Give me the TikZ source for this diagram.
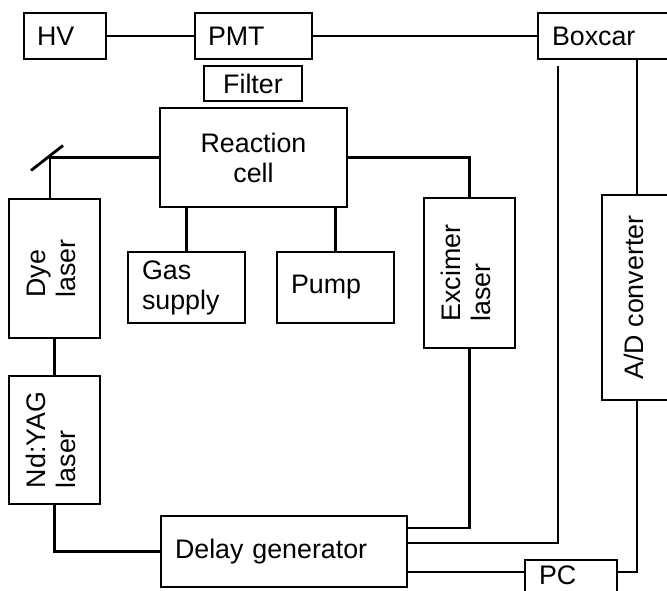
\documentclass[tikz,border=0pt]{standalone}
\usepackage{fontspec}
\usepackage{graphicx}
\setmainfont{Liberation Sans}
\usetikzlibrary{positioning, calc}
\tikzset{
  every picture/.style={line width=2.8pt},
  box/.style={draw, rectangle, inner sep=0pt, align=left, font=\fontsize{26.8}{30}\selectfont},
}
\newcommand{\vlabel}[1]{\rotatebox{90}{\begin{tabular}{@{}l@{}}#1\end{tabular}}}

\begin{document}
\begin{tikzpicture}[x=1pt, y=-1pt]
  \clip (0,0) rectangle (667,590);
  % detection chain
  \node[box, minimum width=82pt, minimum height=46pt, text width=56pt] (hv) at (65,36) {HV};
  \node[box, minimum width=117pt, minimum height=46pt, text width=91pt] (pmt) at (253.5,36) {PMT};
  \node[box, minimum width=152pt, minimum height=46pt, text width=124pt] (boxcar) at (614,36) {Boxcar};
  \node[box, minimum width=98pt, minimum height=35pt, align=center] (filter) at (253,83.5) {Filter};
  \node[box, minimum width=187pt, minimum height=99pt, align=center] (cell) at (253.5,157.5) {Reaction\\cell};
  % lasers and supplies
  \node[box, minimum width=91pt, minimum height=139pt] (dye) at (54.5,268.5) {\vlabel{Dye\\laser}};
  \node[box, minimum width=91pt, minimum height=128pt] (yag) at (54.5,440) {\vlabel{Nd:YAG\\laser}};
  \node[box, minimum width=117pt, minimum height=71pt, text width=89pt] (gas) at (186.5,287.5) {Gas\\supply};
  \node[box, minimum width=117pt, minimum height=71pt, text width=89pt] (pump) at (335.5,287.5) {Pump};
  \node[box, minimum width=91pt, minimum height=150pt] (excimer) at (469.5,273) {\vlabel{Excimer\\laser}};
  \node[box, minimum width=70pt, minimum height=205pt] (adc) at (637,297.5) {\vlabel{A/D converter}};
  \node[box, minimum width=246pt, minimum height=71pt, text width=218pt] (delay) at (284,551.5) {Delay generator};
  \node[box, minimum width=92pt, minimum height=36pt, text width=64pt, text height=16pt, text depth=4pt] (pc) at (571,578) {PC};
  \coordinate (mirror) at (50,157.5);
  \coordinate (tap) at (558,66);
  % wiring
  \draw (hv) -- (pmt);
  \draw (pmt) -- (boxcar);
  \draw (cell) -- (mirror) -- (mirror |- dye.north);
  \draw ([shift={(-19,13)}]mirror) -- ([shift={(13,-12)}]mirror);
  \draw (dye) -- (yag);
  \draw (yag) |- (delay);
  \draw (gas) -- (gas |- cell.south);
  \draw (pump) -- (pump |- cell.south);
  \draw (cell) -| (excimer);
  \draw (excimer) |- ([yshift=23.5pt]delay.east);
  \draw (tap) |- ([yshift=8.5pt]delay.east);
  \draw (adc) -- (adc |- boxcar.south);
  \draw (adc) |- ([yshift=6pt]pc.east);
  \draw ([yshift=6pt]pc.west) -- ([yshift=6pt]pc.west -| delay.east);
\end{tikzpicture}
\end{document}
